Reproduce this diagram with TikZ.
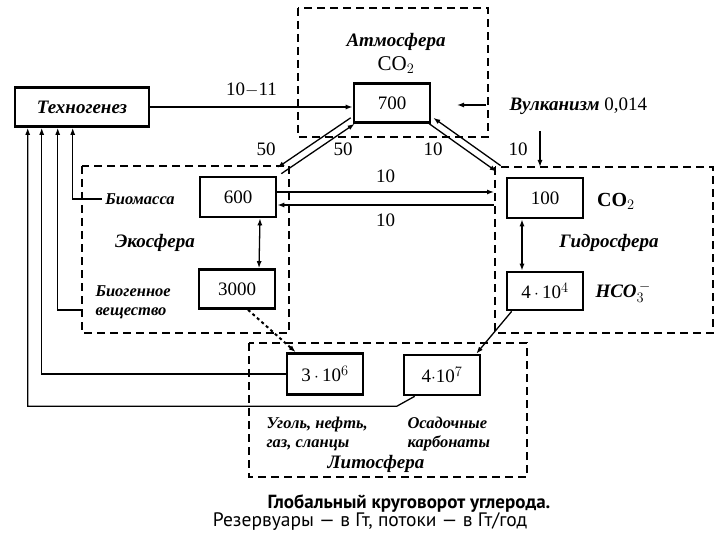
\documentclass[tikz,border=0pt]{standalone}
\usepackage{fontspec}
\setmainfont{Liberation Serif}
\setsansfont{PT Sans}
\usetikzlibrary{arrows.meta, calc}

\begin{document}
\begin{tikzpicture}[x=1pt, y=-1pt,
        box/.style={rectangle, draw, line width=2.6pt, inner sep=0pt, minimum width=76pt, minimum height=39pt, font=\fontsize{19}{21}\selectfont},
        zone/.style={draw, line width=1.8pt, dash pattern=on 8pt off 5pt},
        lbl/.style={font=\fontsize{19}{21}\selectfont\bfseries\itshape, align=left},
        sub/.style={font=\fontsize{16.5}{19}\selectfont\bfseries\itshape, align=left},
        num/.style={font=\fontsize{19}{21}\selectfont},
        flow/.style={-{Latex[length=7pt,width=5pt]}, line width=1.3pt},
        both/.style={{Latex[length=7pt,width=5pt]}-{Latex[length=7pt,width=5pt]}, line width=1.3pt}
        ]
        \useasboundingbox (0,0) rectangle (720,540);

        % spheres
        \draw[zone] (298,8) rectangle (488,137);
        \draw[zone] (82,166) rectangle (289,333);
        \draw[zone] (495,167) rectangle (713,333);
        \draw[zone] (249,343) rectangle (527,477);

        % reservoirs
        \node[box, minimum width=134pt, font=\fontsize{19}{21}\selectfont\bfseries\itshape] (techno) at (82,107) {Техногенез};
        \node[box] (b700) at (392,103) {700};
        \node[box, minimum height=40pt] (b600) at (238,197) {600};
        \node[box] (b3000) at (237,289) {3000};
        \node[box, minimum height=40pt] (b100) at (545,198) {100};
        \node[box, minimum height=38pt] (b4e4) at (545,291) {4\,$\cdot$\,10$^4$};
        \node[box, minimum height=41pt] (b3e6) at (325,374) {3\,$\cdot$\,10$^6$};
        \node[box, minimum height=40pt] (b4e7) at (442,375) {4$\cdot$10$^7$};

        % labels
        \node[lbl] (latm) at (396,42) {Атмосфера};
        \node[num, font=\fontsize{21}{23}\selectfont] (lco2a) at (396,65) {CO$_2$};
        \node[lbl, anchor=west] (lvulk) at (506,106) {Вулканизм \normalfont 0,014};
        \node[sub] (lbio) at (140,199) {Биомасса};
        \node[lbl] (leco) at (155,243) {Экосфера};
        \node[sub, anchor=west] (lbiog) at (92,302) {Биогенное\\вещество};
        \node[num, font=\fontsize{20}{22}\selectfont\bfseries] (lco2h) at (616,201) {CO$_2$};
        \node[lbl] (lhyd) at (609,243) {Гидросфера};
        \node[lbl, anchor=west] (lhco) at (592,292) {HCO$_3^{\,-}$};
        \node[sub, anchor=west] (lcoal) at (263,434) {Уголь, нефть,\\газ, сланцы};
        \node[sub, anchor=west] (lcarb) at (404,434) {Осадочные\\карбонаты};
        \node[lbl] (llit) at (376,464) {Литосфера};
        \node[font=\fontsize{19}{21}\selectfont\sffamily\bfseries] (cap1) at (409,504) {Глобальный круговорот углерода.};
        \node[font=\fontsize{19.5}{21}\selectfont\sffamily] (cap2) at (370,522) {Резервуары — в Гт, потоки — в Гт/год};

        % free ends
        \coordinate (vs) at (486,105);
        \coordinate (vt) at (457,105);
        \coordinate (hs) at (540,131);
        \coordinate (ht) at (540,167);
        \coordinate (hy1) at (494,192);
        \coordinate (hy2) at (494,205);
        \coordinate (cbiog) at (81,310);

        % fluxes
        \draw[flow] (techno.east) -- (techno.east -| b700.west) node[midway, above=6pt, num] {10$-$11};
        \draw[flow] (vs) -- (vt);
        \draw[flow] (hs) -- (ht);
        \draw[flow, transform canvas={shift={(-2pt,3pt)}}] ([yshift=3pt]b700.south west) -- ([shift={(2pt,5pt)}]b600.north east);
        \draw[flow, transform canvas={shift={(2pt,-3pt)}}] ([shift={(2pt,5pt)}]b600.north east) -- ([yshift=3pt]b700.south west);
        \draw[flow, transform canvas={shift={(2pt,3pt)}}] ([shift={(-7pt,8pt)}]b100.north west) -- ([yshift=3pt]b700.south east);
        \draw[flow, transform canvas={shift={(-2pt,-3pt)}}] ([yshift=3pt]b700.south east) -- ([shift={(-7pt,8pt)}]b100.north west);
        \node[num] at (266,149) {50};
        \node[num] at (343,149) {50};
        \node[num] at (433,149) {10};
        \node[num] at (518,149) {10};

        \draw[flow] (b600.east |- hy1) -- (hy1) node[midway, above=5pt, num] {10};
        \draw[flow] (hy2) -- (b600.east |- hy2) node[midway, below=5pt, num] {10};
        \draw[both] ([xshift=22pt]b600.south) -- ([xshift=22pt]b3000.north);
        \draw[both] ([xshift=-23pt]b100.south) -- ([xshift=-23pt]b4e4.north);
        \draw[flow, dashed, line width=2pt] ([xshift=11pt]b3000.south) -- ([xshift=10pt]b3e6.north west);
        \draw[flow] ([xshift=6pt]b4e4.south west) -- ([xshift=-5pt]b4e7.north east);

        % to technogenesis
        \draw[flow] ([xshift=12pt]b4e7.south west) -- ++(-18,10) -| ([xshift=14pt]techno.south west);
        \draw[flow] (b3e6.west) -| ([xshift=28pt]techno.south west);
        \draw[flow] (cbiog) -| ([xshift=44pt]techno.south west);
        \draw[flow] (lbio.west) -| ([xshift=59pt]techno.south west);
        \end{tikzpicture}
\end{document}
